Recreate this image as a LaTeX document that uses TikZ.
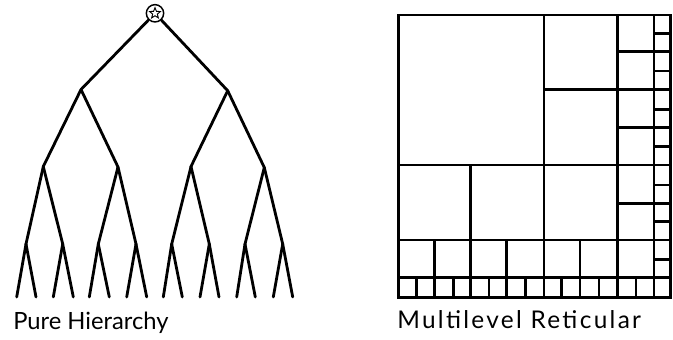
\documentclass[tikz,border=0pt]{standalone}
\usepackage{fontspec}
\setmainfont{Lato}
\usetikzlibrary{shapes.geometric}
\begin{document}
\begin{tikzpicture}[x=0.75pt,y=-0.75pt,
  branch/.style={line width=2.1pt,line cap=round,line join=round},
  gridline/.style={line width=2.1pt,line cap=rect},
  rootnode/.style={circle,draw,line width=1.1pt,fill=white,minimum size=13pt,inner sep=0pt},
  caption/.style={anchor=base west,inner sep=0pt,font=\fontsize{17.8}{20}\selectfont}]
\useasboundingbox (0,0) rectangle (673,339);
% ---------- Pure Hierarchy ----------
\coordinate (l1a) at (81,89.5);
\coordinate (l1b) at (227.7,90.7);
\foreach \n/\x/\y in {a/43.3/166.5,b/118/167,c/191/166.5,d/264.3/167.5}
  \coordinate (l2\n) at (\x,\y);
\foreach \n/\x in {a/26,b/62.7,c/98.3,d/136,e/171.7,f/209.3,g/245,h/282.7}
  \coordinate (l3\n) at (\x,244);
\foreach \n/\x in {1/16.7,2/36,3/53.3,4/73.3,5/89.3,6/109.3,7/126.7,8/146.7,9/163.3,10/182.3,11/200,12/219,13/236.7,14/255.3,15/273.3,16/292.7}
  \coordinate (lf\n) at (\x,297);
\node[rootnode] (root) at (155,13.3) {};
\draw[branch] (root) -- (l1a);
\draw[branch] (root) -- (l1b);
\draw[branch] (l1a) -- (l2a); \draw[branch] (l1a) -- (l2b);
\draw[branch] (l1b) -- (l2c); \draw[branch] (l1b) -- (l2d);
\draw[branch] (l2a) -- (l3a); \draw[branch] (l2a) -- (l3b);
\draw[branch] (l2b) -- (l3c); \draw[branch] (l2b) -- (l3d);
\draw[branch] (l2c) -- (l3e); \draw[branch] (l2c) -- (l3f);
\draw[branch] (l2d) -- (l3g); \draw[branch] (l2d) -- (l3h);
\foreach \p/\a/\b in {a/1/2,b/3/4,c/5/6,d/7/8,e/9/10,f/11/12,g/13/14,h/15/16}{
  \draw[branch] (l3\p) -- (lf\a);
  \draw[branch] (l3\p) -- (lf\b);
}
\node[star,star points=5,star point ratio=2.3,draw,line width=0.7pt,fill=white,minimum size=8.5pt,inner sep=0pt] (rootstar) at (root) {};
\node[caption] (cap1) at (13,329) {Pure Hierarchy};
% ---------- Multilevel Reticular ----------
\def\XL{398.3}\def\XR{670.5}\def\YT{15}\def\YB{297.7}
\def\Xe{654}\def\Ye{277.7}
\draw[gridline] (\XL,\YT) rectangle (\XR,\YB);
% bottom row small squares
\foreach \x in {416.7,434.3,453.3,470.7,489,506.7,525.7,544,561.7,580,599,617.7,636}
  \draw[gridline] (\x,\Ye) -- (\x,\YB);
% column 14 small squares
\foreach \y in {33.3,51.7,71,89.3,109.3,127.7,146.7,165,185,203.3,221.7,240,259.3}
  \draw[gridline] (\Xe,\y) -- (\XR,\y);
% main dividers
\draw[gridline] (\Xe,\YT) -- (\Xe,\YB);
\draw[gridline] (\XL,\Ye) -- (\XR,\Ye);
\draw[gridline] (544,\YT) -- (544,\Ye);
\draw[gridline] (617.7,\YT) -- (617.7,\Ye);
\draw[gridline] (\XL,165) -- (\Xe,165);
\draw[gridline] (\XL,240) -- (\Xe,240);
\draw[gridline] (544,89.3) -- (\Xe,89.3);
\draw[gridline] (470.7,165) -- (470.7,240);
\foreach \x in {434.3,470.7,506.7,580}
  \draw[gridline] (\x,240) -- (\x,\Ye);
\foreach \y in {51.7,127.7,203.3}
  \draw[gridline] (617.7,\y) -- (\Xe,\y);
\node[caption,font=\fontsize{18.3}{20}\selectfont\addfontfeatures{LetterSpace=9.5}] (cap2) at (397,328.5) {Multilevel Reticular};
\end{tikzpicture}
\end{document}
